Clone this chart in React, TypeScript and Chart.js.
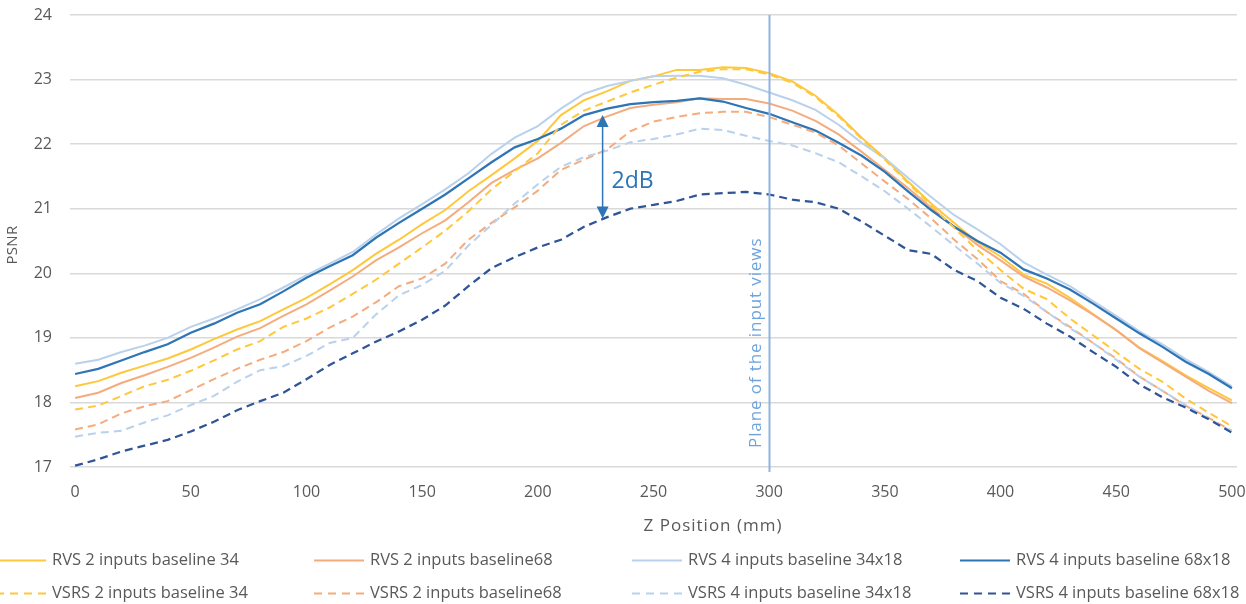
import React, { useEffect, useRef } from "react";
import { Chart, registerables } from "chart.js";

Chart.register(...registerables);

// ---------- DATA ----------
const zPositions = [
  0, 10, 20, 30, 40, 50, 60, 70, 80, 90,
  100, 110, 120, 130, 140, 150, 160, 170, 180, 190,
  200, 210, 220, 230, 240, 250, 260, 270, 280, 290,
  300, 310, 320, 330, 340, 350, 360, 370, 380, 390,
  400, 410, 420, 430, 440, 450, 460, 470, 480, 490, 500,
];

const rvs2Baseline34 = [
  18.25, 18.33, 18.46, 18.57, 18.68, 18.82, 18.98, 19.13, 19.26, 19.44,
  19.62, 19.83, 20.05, 20.3, 20.52, 20.76, 20.98, 21.27, 21.52, 21.78,
  22.05, 22.45, 22.68, 22.82, 22.98, 23.05, 23.15, 23.15, 23.19, 23.18,
  23.1, 22.97, 22.75, 22.45, 22.1, 21.78, 21.42, 21.08, 20.78, 20.48,
  20.26, 19.98, 19.84, 19.62, 19.37, 19.12, 18.85, 18.64, 18.42, 18.22, 18.03,
];

const rvs2Baseline68 = [
  18.07, 18.15, 18.3, 18.42, 18.55, 18.69, 18.85, 19.02, 19.15, 19.34,
  19.52, 19.73, 19.95, 20.2, 20.4, 20.62, 20.82, 21.1, 21.4, 21.6,
  21.78, 22.02, 22.28, 22.43, 22.56, 22.61, 22.65, 22.71, 22.7, 22.7,
  22.63, 22.52, 22.36, 22.15, 21.88, 21.6, 21.32, 21.02, 20.72, 20.44,
  20.2, 19.95, 19.78, 19.58, 19.36, 19.12, 18.84, 18.62, 18.4, 18.18, 17.99,
];

const rvs4Baseline34x18 = [
  18.6, 18.66, 18.78, 18.88, 19.0, 19.17, 19.3, 19.44, 19.6, 19.78,
  19.97, 20.15, 20.33, 20.6, 20.85, 21.07, 21.3, 21.55, 21.85, 22.1,
  22.28, 22.55, 22.78, 22.9, 22.98, 23.05, 23.06, 23.06, 23.02, 22.92,
  22.8, 22.68, 22.53, 22.3, 22.02, 21.78, 21.48, 21.18, 20.9, 20.68,
  20.45, 20.17, 19.98, 19.8, 19.57, 19.34, 19.1, 18.9, 18.67, 18.47, 18.25,
];

const rvs4Baseline68x18 = [
  18.44, 18.52, 18.65, 18.78, 18.9, 19.08, 19.22, 19.39, 19.52, 19.72,
  19.93, 20.11, 20.28, 20.55, 20.78, 21.0, 21.22, 21.47, 21.72, 21.95,
  22.08, 22.24, 22.45, 22.55, 22.62, 22.65, 22.67, 22.71, 22.66, 22.56,
  22.47, 22.34, 22.21, 22.02, 21.82, 21.57, 21.27, 20.98, 20.72, 20.5,
  20.32, 20.06, 19.92, 19.75, 19.53, 19.3, 19.07, 18.86, 18.63, 18.44, 18.22,
];

const vsrs2Baseline34 = [
  17.89, 17.95, 18.1, 18.25, 18.35, 18.49, 18.65, 18.82, 18.95, 19.17,
  19.3, 19.47, 19.68, 19.9, 20.15, 20.4, 20.66, 20.96, 21.3, 21.58,
  21.86, 22.3, 22.52, 22.66, 22.8, 22.92, 23.03, 23.12, 23.16, 23.16,
  23.08, 22.95, 22.73, 22.43, 22.08, 21.76, 21.4, 21.05, 20.7, 20.36,
  20.05, 19.76, 19.6, 19.3, 19.04, 18.78, 18.52, 18.32, 18.06, 17.84, 17.63,
];

const vsrs2Baseline68 = [
  17.58, 17.66, 17.83, 17.94, 18.02, 18.19, 18.36, 18.52, 18.66, 18.78,
  18.95, 19.16, 19.33, 19.55, 19.8, 19.92, 20.15, 20.52, 20.78, 21.02,
  21.28, 21.6, 21.76, 21.92, 22.2, 22.35, 22.42, 22.48, 22.5, 22.5,
  22.42, 22.3, 22.18, 21.98, 21.7, 21.42, 21.15, 20.85, 20.52, 20.22,
  19.88, 19.68, 19.4, 19.17, 18.92, 18.68, 18.4, 18.18, 17.95, 17.76, 17.56,
];

const vsrs4Baseline34x18 = [
  17.47, 17.53, 17.56, 17.69, 17.8, 17.96, 18.1, 18.32, 18.5, 18.56,
  18.72, 18.92, 19.0, 19.36, 19.66, 19.82, 20.04, 20.43, 20.75, 21.08,
  21.38, 21.65, 21.8, 21.9, 22.03, 22.08, 22.15, 22.24, 22.22, 22.13,
  22.05, 21.98, 21.86, 21.72, 21.5, 21.27, 21.0, 20.72, 20.43, 20.15,
  19.85, 19.65, 19.4, 19.15, 18.92, 18.66, 18.4, 18.18, 17.96, 17.75, 17.55,
];

const vsrs4Baseline68x18 = [
  17.02, 17.12, 17.24, 17.33, 17.42, 17.55, 17.7, 17.88, 18.02, 18.15,
  18.36, 18.58, 18.76, 18.94, 19.1, 19.28, 19.5, 19.8, 20.08, 20.25,
  20.4, 20.52, 20.72, 20.87, 21.0, 21.06, 21.12, 21.22, 21.24, 21.26,
  21.22, 21.14, 21.1, 21.0, 20.8, 20.58, 20.36, 20.3, 20.05, 19.88,
  19.62, 19.45, 19.22, 19.02, 18.78, 18.55, 18.28, 18.08, 17.92, 17.74, 17.53,
];

const seriesNames = [
  "RVS 2 inputs baseline 34",
  "RVS 2 inputs baseline68",
  "RVS 4 inputs baseline 34x18",
  "RVS 4 inputs baseline 68x18",
  "VSRS 2 inputs baseline 34",
  "VSRS 2 inputs baseline68",
  "VSRS 4 inputs baseline 34x18",
  "VSRS 4 inputs baseline 68x18",
];
const seriesValues = [
  rvs2Baseline34,
  rvs2Baseline68,
  rvs4Baseline34x18,
  rvs4Baseline68x18,
  vsrs2Baseline34,
  vsrs2Baseline68,
  vsrs4Baseline34x18,
  vsrs4Baseline68x18,
];
const seriesColors = [
  "#FFC83C",
  "#F4AC7E",
  "#B9D1EC",
  "#2E75B6",
  "#FFC83C",
  "#F4AC7E",
  "#B9D1EC",
  "#2F5597",
];
const seriesDashed = [false, false, false, false, true, true, true, true];

const xTickValues = [0, 50, 100, 150, 200, 250, 300, 350, 400, 450, 500];
const yMin = 17;
const yMax = 24;
const planeZ = 300;
const gapZ = 228;
const gapTop = 22.45;
const gapBottom = 20.85;

const xTitle = "Z Position (mm)";
const yTitle = "PSNR";
const planeLabel = "Plane of the input views";
const gapLabel = "2dB";

// ---------- STYLE ----------
const FONT = "'Open Sans', 'DejaVu Sans', sans-serif";
const TEXT = "#595959";
const DASH = [8, 5];

const overlayPlugin = {
  id: "overlay",
  afterDatasetsDraw(chart: any) {
    const { ctx, chartArea, scales } = chart;
    const x = scales.x;
    const y = scales.y;
    ctx.save();

    // Plane vertical line
    const px = Math.round(x.getPixelForValue(planeZ)) + 0.5;
    ctx.strokeStyle = "#8DB4E2";
    ctx.lineWidth = 2;
    ctx.beginPath();
    ctx.moveTo(px, chartArea.top);
    ctx.lineTo(px, chartArea.bottom + 5);
    ctx.stroke();

    // Rotated label
    ctx.save();
    ctx.translate(px - 9, chartArea.bottom - 19);
    ctx.rotate(-Math.PI / 2);
    ctx.fillStyle = "#6FA3DC";
    ctx.font = `17px ${FONT}`;
    (ctx as any).letterSpacing = "0.9px";
    ctx.textAlign = "left";
    ctx.textBaseline = "alphabetic";
    ctx.fillText(planeLabel, 0, 0);
    ctx.restore();

    // 2dB arrow
    const ax = x.getPixelForValue(gapZ);
    const top = y.getPixelForValue(gapTop);
    const bot = y.getPixelForValue(gapBottom);
    const headH = 12;
    const headW = 6;
    ctx.strokeStyle = "#2E75B6";
    ctx.fillStyle = "#2E75B6";
    ctx.lineWidth = 1.5;
    ctx.beginPath();
    ctx.moveTo(ax, top + headH - 1);
    ctx.lineTo(ax, bot - headH + 1);
    ctx.stroke();
    ctx.beginPath();
    ctx.moveTo(ax, top);
    ctx.lineTo(ax - headW, top + headH);
    ctx.lineTo(ax + headW, top + headH);
    ctx.closePath();
    ctx.fill();
    ctx.beginPath();
    ctx.moveTo(ax, bot);
    ctx.lineTo(ax - headW, bot - headH);
    ctx.lineTo(ax + headW, bot - headH);
    ctx.closePath();
    ctx.fill();

    ctx.font = `23px ${FONT}`;
    ctx.textAlign = "left";
    ctx.textBaseline = "alphabetic";
    ctx.fillText(gapLabel, ax + 9, (top + bot) / 2 + 21);

    ctx.restore();
  },
  afterDraw(chart: any) {
    const { ctx } = chart;
    ctx.save();
    ctx.fillStyle = TEXT;
    ctx.font = `17px ${FONT}`;
    (ctx as any).letterSpacing = "1px";
    ctx.textAlign = "center";
    ctx.textBaseline = "middle";
    ctx.fillText(xTitle, 713, 526);

    ctx.save();
    ctx.translate(13, 245);
    ctx.rotate(-Math.PI / 2);
    ctx.font = `15px ${FONT}`;
    (ctx as any).letterSpacing = "0.3px";
    ctx.fillText(yTitle, 0, 0);
    ctx.restore();

    // Legend, 4 columns x 2 rows
    const colX = [-4, 314, 632, 960];
    const rowY = [560, 593];
    const lineLen = 50;
    ctx.font = `16.5px ${FONT}`;
    (ctx as any).letterSpacing = "0px";
    ctx.textAlign = "left";
    ctx.textBaseline = "middle";
    for (let i = 0; i < seriesNames.length; i++) {
      const c = i % 4;
      const r = Math.floor(i / 4);
      const lx = colX[c];
      const ly = rowY[r];
      ctx.strokeStyle = seriesColors[i];
      ctx.lineWidth = 2;
      ctx.setLineDash(seriesDashed[i] ? [8, 6] : []);
      ctx.beginPath();
      ctx.moveTo(lx, ly + 0.5);
      ctx.lineTo(lx + lineLen, ly + 0.5);
      ctx.stroke();
      ctx.setLineDash([]);
      ctx.fillStyle = TEXT;
      ctx.fillText(seriesNames[i], lx + lineLen + 6, ly);
    }
    ctx.restore();
  },
};

export default function App() {
  const canvasRef = useRef<HTMLCanvasElement | null>(null);

  useEffect(() => {
    const canvas = canvasRef.current;
    if (!canvas) return;
    const datasets = seriesNames.map((name, i) => ({
      label: name,
      data: zPositions.map((z, k) => ({ x: z, y: seriesValues[i][k] })),
      borderColor: seriesColors[i],
      backgroundColor: seriesColors[i],
      borderWidth: i === 3 || i === 7 ? 2.25 : 2,
      borderDash: seriesDashed[i] ? DASH : [],
      pointRadius: 0,
      pointHoverRadius: 0,
      tension: 0,
      fill: false,
      order: 8 - i,
    }));

    const chart = new Chart(canvas, {
      type: "line",
      data: { datasets },
      options: {
        animation: false,
        responsive: false,
        devicePixelRatio: 1,
        layout: { padding: { top: 15, right: 9, bottom: 0, left: 0 } },
        plugins: {
          legend: { display: false },
          tooltip: { enabled: false },
        },
        scales: {
          x: {
            type: "linear",
            min: -2.2,
            max: 502.2,
            afterBuildTicks: (scale: any) => {
              scale.ticks = xTickValues.map((v) => ({ value: v }));
            },
            afterFit: (scale: any) => {
              scale.height = 137;
              scale.paddingLeft = 0;
              scale.paddingRight = 0;
            },
            grid: { display: false, drawTicks: false },
            border: { display: false },
            ticks: {
              autoSkip: false,
              maxRotation: 0,
              padding: 16,
              color: TEXT,
              font: { family: FONT, size: 16 },
            },
          },
          y: {
            min: yMin,
            max: yMax,
            afterFit: (scale: any) => {
              scale.width = 70;
              scale.paddingTop = 0;
              scale.paddingBottom = 0;
            },
            grid: { color: "#D9D9D9", lineWidth: 1.5, drawTicks: false },
            border: { display: false },
            ticks: {
              stepSize: 1,
              padding: 18,
              color: TEXT,
              font: { family: FONT, size: 16 },
            },
          },
        },
      },
      plugins: [overlayPlugin],
    });
    return () => chart.destroy();
  }, []);

  return (
    <div style={{ position: "absolute", left: 0, top: 0, width: 1246, height: 604, background: "#fff" }}>
      <canvas ref={canvasRef} width={1246} height={604} style={{ display: "block" }} />
    </div>
  );
}
